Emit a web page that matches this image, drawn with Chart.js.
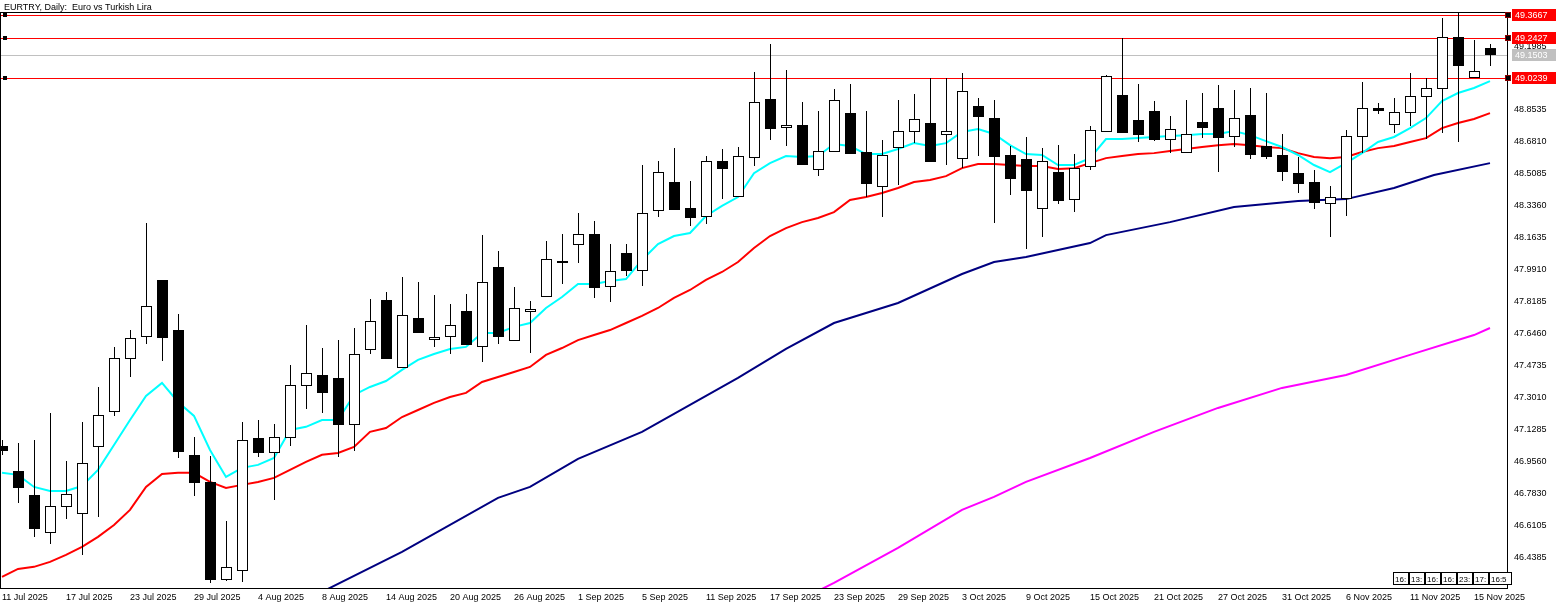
<!DOCTYPE html>
<html><head><meta charset="utf-8">
<script src="https://cdn.jsdelivr.net/npm/chart.js@4/dist/chart.umd.min.js"></script>
<style>html,body{margin:0;padding:0;background:#fff;overflow:hidden}</style>
</head><body><canvas id="c" width="1563" height="609" style="width:1563px;height:609px;display:block"></canvas>
<script>
const title = "EURTRY, Daily:  Euro vs Turkish Lira";
const dateLabels = ["11 Jul 2025","17 Jul 2025","23 Jul 2025","29 Jul 2025","4 Aug 2025","8 Aug 2025","14 Aug 2025","20 Aug 2025","26 Aug 2025","1 Sep 2025","5 Sep 2025","11 Sep 2025","17 Sep 2025","23 Sep 2025","29 Sep 2025","3 Oct 2025","9 Oct 2025","15 Oct 2025","21 Oct 2025","27 Oct 2025","31 Oct 2025","6 Nov 2025","11 Nov 2025","15 Nov 2025"];
const priceTicks = [46.4385,46.6105,46.7830,46.9560,47.1285,47.3010,47.4735,47.6460,47.8185,47.9910,48.1635,48.3360,48.5085,48.6810,48.8535,49.1985];
const open  = [47.042,46.907,46.778,46.579,46.719,46.681,47.042,47.231,47.516,47.635,47.937,47.667,46.994,46.848,46.325,46.374,47.085,47.010,47.091,47.371,47.425,47.409,47.161,47.565,47.829,47.468,47.732,47.619,47.635,47.770,47.581,48.007,47.613,47.770,47.851,48.039,48.131,48.185,47.904,48.082,47.991,48.314,48.465,48.325,48.282,48.578,48.390,48.600,48.912,48.761,48.772,48.535,48.632,48.837,48.627,48.443,48.654,48.740,48.783,48.724,48.594,48.875,48.810,48.611,48.589,48.325,48.519,48.373,48.551,48.740,48.934,48.799,48.848,48.697,48.627,48.788,48.864,48.713,48.826,48.659,48.611,48.513,48.465,48.352,48.379,48.713,48.864,48.778,48.842,48.929,48.972,49.247,49.031,49.187];
const high  = [47.074,47.058,47.074,47.220,46.961,47.171,47.360,47.576,47.667,48.244,47.937,47.753,47.091,46.988,46.638,47.171,47.182,47.161,47.479,47.694,47.570,47.613,47.678,47.834,47.872,47.953,47.926,47.856,47.807,47.861,48.179,48.093,47.899,47.824,48.147,48.185,48.298,48.255,48.131,48.131,48.557,48.578,48.648,48.470,48.605,48.643,48.654,49.058,49.209,49.069,48.896,48.848,48.966,48.993,48.848,48.691,48.907,48.939,49.026,49.026,49.053,48.918,48.907,48.659,48.708,48.648,48.664,48.616,48.767,49.042,49.241,48.993,48.902,48.821,48.907,48.945,48.988,48.961,48.972,48.945,48.724,48.600,48.530,48.443,48.745,49.004,48.891,48.918,49.053,49.026,49.349,49.376,49.230,49.209];
const low   = [46.994,46.735,46.552,46.514,46.649,46.455,46.659,47.204,47.414,47.592,47.500,46.977,46.773,46.304,46.314,46.309,46.983,46.751,47.042,47.241,47.220,46.983,47.015,47.538,47.516,47.468,47.651,47.576,47.538,47.592,47.495,47.592,47.613,47.543,47.851,47.915,48.028,47.840,47.818,47.958,47.904,48.276,48.314,48.228,48.239,48.373,48.384,48.551,48.691,48.659,48.562,48.497,48.632,48.616,48.384,48.276,48.449,48.675,48.573,48.557,48.540,48.605,48.244,48.395,48.104,48.169,48.346,48.303,48.530,48.740,48.729,48.681,48.686,48.621,48.627,48.702,48.519,48.654,48.589,48.589,48.470,48.406,48.319,48.169,48.282,48.621,48.831,48.729,48.767,48.697,48.729,48.681,49.031,49.090];
const close = [47.020,46.821,46.600,46.719,46.783,46.950,47.209,47.516,47.624,47.797,47.630,47.015,46.848,46.325,46.390,47.074,47.010,47.091,47.371,47.436,47.333,47.161,47.538,47.716,47.516,47.748,47.657,47.630,47.694,47.592,47.926,47.635,47.786,47.781,48.050,48.034,48.185,47.899,47.985,47.991,48.298,48.519,48.319,48.276,48.578,48.540,48.605,48.896,48.756,48.772,48.562,48.632,48.907,48.621,48.460,48.611,48.740,48.805,48.578,48.740,48.956,48.821,48.605,48.487,48.422,48.578,48.368,48.540,48.745,49.036,48.735,48.724,48.697,48.751,48.724,48.761,48.708,48.810,48.616,48.605,48.524,48.460,48.357,48.384,48.713,48.864,48.853,48.842,48.929,48.972,49.247,49.096,49.063,49.155];
const maFast = [46.897,46.886,46.821,46.799,46.799,46.826,46.913,47.047,47.182,47.312,47.382,47.279,47.204,47.020,46.875,46.924,46.940,46.977,47.128,47.145,47.182,47.182,47.317,47.360,47.392,47.452,47.506,47.538,47.565,47.576,47.651,47.651,47.684,47.705,47.786,47.845,47.915,47.915,47.931,47.942,48.045,48.131,48.174,48.190,48.282,48.336,48.384,48.513,48.567,48.605,48.600,48.605,48.670,48.659,48.616,48.616,48.643,48.675,48.659,48.675,48.735,48.751,48.724,48.664,48.616,48.611,48.557,48.557,48.594,48.697,48.697,48.702,48.708,48.713,48.718,48.724,48.724,48.740,48.718,48.686,48.654,48.611,48.557,48.519,48.567,48.621,48.681,48.708,48.756,48.810,48.902,48.945,48.972,49.009];
const maMid = [46.336,46.379,46.390,46.417,46.455,46.498,46.552,46.616,46.697,46.821,46.891,46.897,46.897,46.848,46.816,46.832,46.848,46.870,46.913,46.956,46.994,47.004,47.037,47.118,47.139,47.198,47.236,47.274,47.306,47.328,47.387,47.414,47.441,47.468,47.533,47.570,47.613,47.640,47.667,47.705,47.743,47.786,47.840,47.883,47.937,47.980,48.034,48.109,48.174,48.217,48.249,48.271,48.303,48.368,48.384,48.406,48.433,48.465,48.476,48.497,48.540,48.562,48.562,48.557,48.551,48.551,48.535,48.540,48.567,48.594,48.605,48.616,48.621,48.632,48.643,48.654,48.664,48.670,48.664,48.654,48.648,48.621,48.600,48.594,48.600,48.627,48.648,48.659,48.681,48.702,48.756,48.783,48.805,48.837];
const maSlowIdx = [20,25,31,33,36,40,43,46,49,52,56,60,62,64,68,69,73,77,81,84,87,89.5,93];
const maSlow    = [46.255,46.471,46.762,46.821,46.972,47.118,47.263,47.409,47.565,47.705,47.813,47.969,48.034,48.061,48.136,48.179,48.249,48.330,48.363,48.373,48.433,48.503,48.567];
const maLongIdx = [51,52,56,60,62,64,68,72,76,80,84,88,92,93];
const maLong    = [46.260,46.304,46.492,46.697,46.767,46.848,46.977,47.118,47.247,47.355,47.425,47.533,47.640,47.678];
const levelsRed = [49.3667,49.2427,49.0239];
const levelGrey = 49.1503;
const timeBoxes = ["16:","13:","16:","16:","23:","17:","16:5"];

const FAM = '"Liberation Sans", Arial, sans-serif';
const toXY = (idx, arr) => idx.map((x,i)=>({x, y:arr[i]}));
const seq = arr => arr.map((y,i)=>({x:i,y}));

const candlePlugin = {
  id:'candles',
  beforeDatasetsDraw(chart){
    const {ctx, scales:{y}, chartArea:a} = chart;
    ctx.save();
    ctx.lineWidth=1;
    ctx.strokeStyle='#c0c0c0';
    let py=Math.round(y.getPixelForValue(levelGrey))+0.5;
    ctx.beginPath(); ctx.moveTo(a.left,py); ctx.lineTo(a.right,py); ctx.stroke();
    ctx.strokeStyle='#ff0000';
    levelsRed.forEach(v=>{const p=Math.round(y.getPixelForValue(v))+0.5;ctx.beginPath();ctx.moveTo(a.left,p);ctx.lineTo(a.right,p);ctx.stroke();});
    ctx.restore();
  },
  afterDatasetsDraw(chart){
    const {ctx, scales:{x,y}, chartArea:a} = chart;
    ctx.save();
    ctx.beginPath(); ctx.rect(a.left,a.top,a.right-a.left,a.bottom-a.top); ctx.clip();
    const hw=5;
    for(let i=0;i<open.length;i++){
      const cx=Math.round(x.getPixelForValue(i))+0.5;
      const yo=Math.round(y.getPixelForValue(open[i])), yc=Math.round(y.getPixelForValue(close[i]));
      const yh=Math.round(y.getPixelForValue(high[i])), yl=Math.round(y.getPixelForValue(low[i]));
      ctx.strokeStyle='#000'; ctx.lineWidth=1;
      ctx.beginPath(); ctx.moveTo(cx,yh); ctx.lineTo(cx,yl); ctx.stroke();
      const top=Math.min(yo,yc), bot=Math.max(yo,yc);
      const bull=close[i]>=open[i];
      ctx.fillStyle=bull?'#fff':'#000';
      ctx.fillRect(cx-hw-0.5,top,2*hw+1,Math.max(bot-top,1)+1);
      ctx.strokeRect(cx-hw,top+0.5,2*hw,Math.max(bot-top,1));
    }
    ctx.restore();
    ctx.save();
    ctx.strokeStyle='#000'; ctx.lineWidth=1;
    ctx.strokeRect(Math.round(a.left)+0.5,Math.round(a.top)+0.5,Math.round(a.right-a.left)-1,Math.round(a.bottom-a.top));
    ctx.font='9px '+FAM; ctx.textBaseline='middle';
    const lab=(v,bg,fg)=>{const p=Math.round(y.getPixelForValue(v));ctx.fillStyle=bg;ctx.fillRect(a.right+4,p-6,44,12);ctx.fillStyle=fg;ctx.fillText(v.toFixed(4),a.right+7,p+0.5);};
    lab(levelGrey,'#c0c0c0','#fff');
    levelsRed.forEach(v=>{lab(v,'#ff0000','#fff');const p=Math.round(y.getPixelForValue(v));ctx.fillStyle='#000';ctx.fillRect(a.left+3,p-2,4,4);ctx.fillStyle='#800';ctx.fillRect(a.right-3,p-3,6,6);ctx.fillStyle='#000';ctx.fillRect(a.right-2,p-2,4,4);});
    ctx.fillStyle='#000'; ctx.textBaseline='alphabetic'; ctx.fillText(title,4,10);
    let bx=1393; ctx.font='8px '+FAM;
    timeBoxes.forEach(t=>{const w=t.length>3?22:15;ctx.fillStyle='#fff';ctx.fillRect(bx,572,w,13);ctx.strokeStyle='#000';ctx.strokeRect(bx+0.5,572.5,w,12);ctx.fillStyle='#000';ctx.fillText(t,bx+2,582);bx+=w+1;});
    ctx.restore();
  }
};

new Chart(document.getElementById('c'),{
  type:'line',
  data:{datasets:[
    {data:seq(maFast),borderColor:'#00ffff',borderWidth:2},
    {data:seq(maMid),borderColor:'#ff0000',borderWidth:2},
    {data:toXY(maSlowIdx,maSlow),borderColor:'#000080',borderWidth:2},
    {data:toXY(maLongIdx,maLong),borderColor:'#ff00ff',borderWidth:2}
  ]},
  options:{
    responsive:false, animation:false, devicePixelRatio:1,
    layout:{padding:{top:12,left:0,right:0,bottom:0}},
    elements:{point:{radius:0},line:{tension:0}},
    plugins:{legend:{display:false},tooltip:{enabled:false}},
    scales:{
      x:{type:'linear',min:-0.125,max:94.125,
        afterBuildTicks(s){s.ticks=dateLabels.map((l,i)=>({value:i*4}));},
        afterFit(s){s.height=21;},
        grid:{display:false,drawTicks:true,tickLength:4,tickColor:'#000'},
        border:{display:false},
        ticks:{autoSkip:false,maxRotation:0,minRotation:0,align:'start',padding:0,color:'#000',font:{family:FAM,size:9},
          callback:(v)=>dateLabels[Math.round(v/4)]}
      },
      y:{type:'linear',position:'right',min:46.276,max:49.382,
        afterBuildTicks(s){s.ticks=priceTicks.map(v=>({value:v}));},
        afterFit(s){s.width=55;},
        grid:{display:false,drawTicks:true,tickLength:4,tickColor:'#000'},
        border:{display:false},
        ticks:{autoSkip:false,padding:2,color:'#000',font:{family:FAM,size:9},callback:v=>v.toFixed(4)}
      }
    }
  },
  plugins:[candlePlugin]
});
</script>
</body></html>
